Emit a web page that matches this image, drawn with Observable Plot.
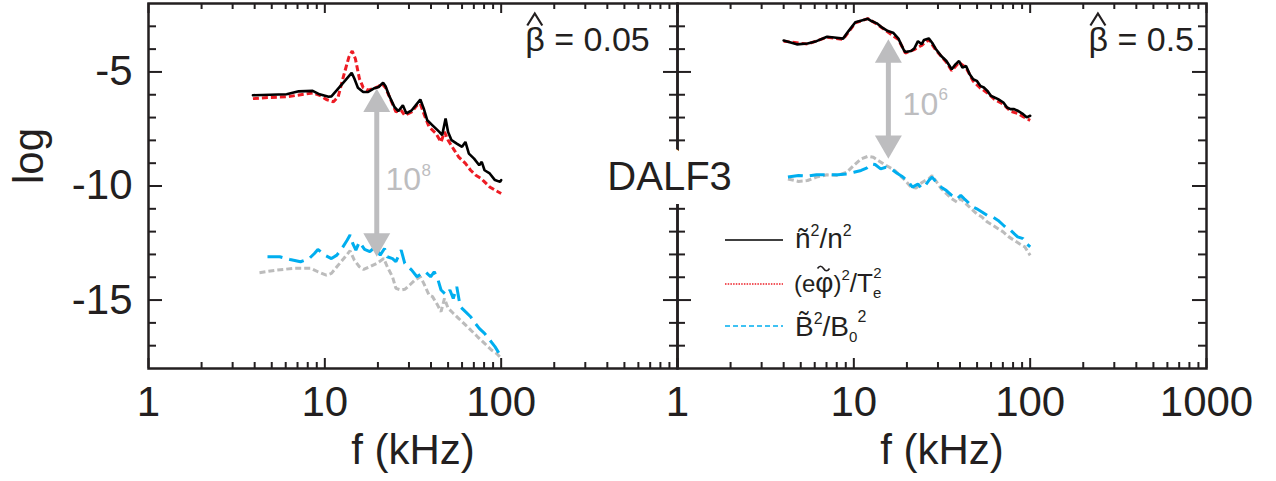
<!DOCTYPE html>
<html><head><meta charset="utf-8">
<script src="https://cdn.jsdelivr.net/npm/d3@7"></script>
<script src="https://cdn.jsdelivr.net/npm/@observablehq/plot@0.6"></script>
<style>
html,body{margin:0;padding:0;background:#fff;}
#wrap{position:relative;width:1276px;height:481px;font-family:"Liberation Sans",Arial,Helvetica,sans-serif;}
#legend{position:absolute;left:0;top:0;pointer-events:none;}
</style></head><body><div id="wrap"></div>
<script>
// ---------- data ----------
const panels = ["a", "b"];
const betaLabels = ["β = 0.05", "β = 0.5"];   // β carries a hat accent (drawn above it)
const betaLabelF = [137, 214];

const xTickValues = [1, 10, 100, 1000];
const xTickLabelsLeft = ["1", "10", "100"];
const xTickLabelsRight = ["1", "10", "100", "1000"];
const xMinor = [2,3,4,5,6,7,8,9,20,30,40,50,60,70,80,90,200,300,400,500,600,700,800,900];
const yMajor = [-5, -10, -15];
const yMinor = [-3,-4,-6,-7,-8,-9,-11,-12,-13,-14,-16,-17];

// left panel (beta = 0.05)
const fDensL = [3.91,6.07,7.11,8.53,9.34,10.5,10.9,11.7,13.1,14.2,14.7,15.4,16.5,17.6,18.9,20.2,21.4,22.1,23.1,24.8,26.1,27.7,29.0,31.1,32.5,34.8,36.4,38.1,40.8,44.6,46.3,48.4,50.0,52.3,56.0,60.0,62.7,65.6,70.2,75.1,77.6,80.5,86.1,92.2,98.6,100];
const vDensL = [-6.02,-5.98,-5.85,-5.83,-5.98,-6.09,-6.07,-5.80,-5.36,-5.04,-5.29,-5.69,-5.88,-5.88,-5.73,-5.66,-5.47,-5.63,-6.02,-6.53,-6.72,-6.46,-6.82,-6.68,-6.50,-6.21,-6.61,-7.12,-7.34,-7.63,-7.77,-7.04,-7.63,-7.99,-8.14,-8.28,-8.07,-8.58,-8.80,-9.09,-8.94,-9.31,-9.45,-9.74,-9.82,-9.74];
const fPhiL = [3.91,4.84,6.07,7.62,8.53,9.34,10.2,11.2,11.9,12.8,13.7,14.3,14.9,15.7,16.5,17.6,18.9,20.2,21.1,22.1,23.7,25.3,27.1,28.4,31.1,33.3,34.8,36.4,39.0,42.7,45.6,47.7,50.0,53.5,57.3,62.7,67.1,71.8,76.9,80.5,86.1,92.2,100];
const vPhiL = [-6.17,-6.12,-6.09,-5.98,-5.92,-6.02,-6.21,-6.31,-6.09,-5.15,-4.34,-4.08,-4.42,-5.29,-5.69,-5.80,-5.73,-5.63,-5.51,-5.69,-6.24,-6.75,-6.68,-6.90,-6.75,-6.46,-6.39,-6.82,-7.41,-7.70,-8.07,-7.63,-7.99,-8.36,-8.72,-9.01,-9.31,-9.53,-9.67,-9.82,-10.04,-10.18,-10.33];
const fMagL = [4.73,5.55,6.35,7.28,8.15,8.73,9.13,10.0,10.9,11.7,12.5,13.4,13.9,14.4,15.0,15.7,16.8,18.0,19.3,20.6,21.8,22.6,24.2,25.3,27.1,28.4,31.1,33.3,35.6,37.2,39.8,41.7,43.6,45.6,48.9,51.2,53.5,56.0,58.6,62.7,67.1,70.2,75.1,80.5,86.1,92.2,98.6];
const vMagL = [-13.10,-13.10,-13.22,-13.32,-13.18,-12.96,-12.78,-13.03,-13.18,-13.03,-12.74,-12.37,-12.15,-12.52,-12.81,-12.45,-12.78,-12.88,-12.66,-13.03,-12.74,-13.10,-13.18,-13.32,-12.81,-13.39,-13.69,-13.98,-13.83,-13.76,-13.98,-13.76,-14.05,-14.56,-14.78,-14.56,-14.93,-14.42,-15.29,-15.51,-15.73,-15.95,-16.24,-16.46,-16.75,-17.04,-17.41];
const fGrayL = [4.26,5.30,6.65,8.34,9.13,10.2,10.9,11.7,12.8,13.9,14.7,15.7,16.6,18.0,19.7,21.6,22.6,24.2,25.3,27.1,28.4,30.3,32.5,34.8,36.4,39.0,40.8,43.6,45.6,47.7,50.0,53.5,57.3,62.7,67.1,73.5,80.5,88.1,94.2,100];
const vGrayL = [-13.80,-13.69,-13.61,-13.61,-13.76,-13.91,-13.83,-13.54,-13.18,-12.84,-13.25,-13.54,-13.66,-13.54,-13.39,-13.18,-13.54,-13.98,-14.49,-14.56,-14.53,-14.34,-14.12,-13.98,-14.27,-14.78,-14.85,-15.22,-15.51,-14.93,-15.36,-15.58,-15.80,-16.09,-16.31,-16.61,-16.90,-17.19,-17.34,-17.55];

// right panel (beta = 0.5)
const fDensR = [4.00,4.75,5.46,6.14,7.05,7.74,8.69,9.33,10.2,11.2,12.0,12.6,13.5,14.5,15.6,16.7,17.9,19.2,19.6,21.1,22.0,23.1,24.2,25.0,26.6,27.8,29.1,31.3,33.5,35.9,37.7,39.5,41.3,43.3,45.4,47.5,49.8,52.1,54.6,57.2,60.0,62.8,65.8,70.5,73.9,77.4,81.1,84.9,91.2,95.5,100];
const vDensR = [-3.62,-3.79,-3.75,-3.65,-3.46,-3.49,-3.54,-3.21,-2.82,-2.73,-2.67,-2.77,-2.87,-3.06,-3.21,-3.28,-3.54,-4.04,-4.13,-4.08,-3.98,-3.65,-3.79,-3.60,-3.53,-3.72,-3.98,-4.30,-4.52,-4.88,-4.67,-4.52,-4.81,-4.74,-5.10,-5.32,-5.39,-5.61,-5.68,-5.83,-6.05,-6.12,-6.19,-6.34,-6.56,-6.63,-6.63,-6.70,-6.85,-6.99,-6.92];
const fPhiR = [4.00,5.46,7.05,8.69,10.2,12.0,13.5,15.6,17.9,19.6,22.0,24.2,26.6,29.1,33.5,35.9,39.5,43.3,47.5,52.1,57.2,62.8,70.5,77.4,84.9,91.2,100];
const vPhiR = [-3.65,-3.78,-3.48,-3.57,-2.85,-2.66,-2.90,-3.25,-3.58,-4.17,-4.02,-3.84,-3.58,-4.03,-4.58,-4.94,-4.58,-4.82,-5.40,-5.70,-5.92,-6.20,-6.42,-6.72,-6.82,-6.96,-7.12];
const fMagR = [4.23,4.86,5.46,6.14,7.05,8.11,9.11,10.0,11.0,11.8,12.6,13.2,14.2,15.2,16.3,17.5,18.7,20.1,21.5,23.1,24.2,25.4,26.6,27.8,29.1,31.3,33.5,35.9,38.5,40.4,42.3,45.4,47.5,49.8,53.3,57.2,61.4,65.8,70.5,73.9,77.4,81.1,84.9,91.2,95.5,100];
const vMagR = [-9.61,-9.54,-9.57,-9.51,-9.50,-9.51,-9.47,-9.40,-9.32,-9.22,-9.03,-9.06,-9.25,-9.18,-9.25,-9.43,-9.57,-9.76,-10.05,-9.91,-10.09,-9.98,-9.76,-9.61,-9.80,-10.05,-10.20,-10.41,-10.56,-10.41,-10.56,-10.78,-10.92,-11.00,-11.14,-11.29,-11.36,-11.51,-11.72,-11.87,-11.94,-12.09,-12.23,-12.31,-12.53,-12.67];
const fGrayR = [4.23,4.86,5.46,6.14,7.05,8.11,9.11,10.0,11.0,12.0,12.9,13.8,14.9,15.9,17.1,18.3,19.6,21.1,22.6,23.7,25.4,26.6,27.8,29.1,31.3,33.5,35.9,38.5,40.4,43.3,46.4,49.8,53.3,57.2,61.4,65.8,70.5,75.7,81.1,86.9,93.3,100];
const vGrayR = [-9.69,-9.80,-9.76,-9.61,-9.51,-9.54,-9.40,-9.10,-8.81,-8.70,-8.74,-8.89,-9.06,-9.18,-9.32,-9.54,-9.76,-10.05,-10.09,-9.91,-9.76,-9.69,-9.54,-9.76,-10.12,-10.34,-10.56,-10.71,-10.56,-10.78,-11.00,-11.22,-11.36,-11.58,-11.72,-11.87,-12.02,-12.23,-12.38,-12.53,-12.67,-13.04];

// arrows and ratio annotations
const arrowF = [19.7, 15.7];
const arrowTop = [-5.73, -3.57];
const arrowBottom = [-13.10, -8.81];
const ratioBase = ["10", "10"];
const ratioExp = ["8", "6"];
const ratioF = [22.1, 18.9];
const ratioV = [-9.74, -6.45];

// ---------- build tables ----------
const rows = (panel, f, v) => f.map((x, i) => ({panel, f: x, v: v[i]}));
const dens = [...rows("a", fDensL, vDensL), ...rows("b", fDensR, vDensR)];
const phi = [...rows("a", fPhiL, vPhiL), ...rows("b", fPhiR, vPhiR)];
const mag = [...rows("a", fMagL, vMagL), ...rows("b", fMagR, vMagR)];
const gray = [...rows("a", fGrayL, vGrayL), ...rows("b", fGrayR, vGrayR)];
const arrows = panels.map((p, i) => ({panel: p, f: arrowF[i], top: arrowTop[i], bottom: arrowBottom[i]}));
const ratios = panels.map((p, i) => ({panel: p, f: ratioF[i], v: ratioV[i], base: ratioBase[i], exp: ratioExp[i]}));
const betas = panels.map((p, i) => ({panel: p, f: betaLabelF[i], label: betaLabels[i]}));
const xTickRows = [
  ...xTickLabelsLeft.map(l => ({panel: "a", f: +l, label: l})),
  ...xTickLabelsRight.map(l => ({panel: "b", f: +l, label: l}))
];

const W = 1276, H = 481, ML = 148, MR = 70, MT = 3, MB = 113;
const FW = (W - ML - MR) / 2, FH = H - MT - MB;
const INK = "#231f20", ARROW = "#bdbdbf";
const C_RED = "#ed1c24", C_BLUE = "#00aeef", C_GRAY = "#bcbcbc";

// circumflex accent for β̂
const hatSymbol = {draw(ctx) { ctx.moveTo(-7.5, 6); ctx.lineTo(0, -6); ctx.lineTo(7.5, 6); }};

const chart = Plot.plot({
  width: W, height: H,
  marginLeft: ML, marginRight: MR, marginTop: MT, marginBottom: MB,
  style: {fontFamily: '"Liberation Sans", Arial, Helvetica, sans-serif', background: "white", color: INK},
  x: {type: "log", domain: [1, 1000], axis: null},
  y: {domain: [-18, -2], axis: null},
  fx: {domain: panels, padding: 0, axis: null},
  marks: [
    // ticks (inward)
    Plot.tickX(xTickValues, {x: d => d, insetTop: FH - 10, strokeWidth: 2, stroke: INK}),
    Plot.tickX(xMinor, {x: d => d, insetTop: FH - 6, strokeWidth: 2, stroke: INK}),
    Plot.tickX(xTickValues, {x: d => d, insetBottom: FH - 10, strokeWidth: 2, stroke: INK}),
    Plot.tickX(xMinor, {x: d => d, insetBottom: FH - 6, strokeWidth: 2, stroke: INK}),
    Plot.tickY(yMajor, {y: d => d, insetRight: FW - 14, strokeWidth: 2, stroke: INK}),
    Plot.tickY(yMinor, {y: d => d, insetRight: FW - 8, strokeWidth: 2, stroke: INK}),
    Plot.tickY(yMajor, {y: d => d, insetLeft: FW - 14, strokeWidth: 2, stroke: INK}),
    Plot.tickY(yMinor, {y: d => d, insetLeft: FW - 8, strokeWidth: 2, stroke: INK}),
    Plot.frame({stroke: INK, strokeWidth: 2.5}),
    // series
    Plot.line(gray, {x: "f", y: "v", fx: "panel", stroke: C_GRAY, strokeWidth: 3, strokeDasharray: "6 3", strokeLinecap: "butt", strokeLinejoin: "miter"}),
    Plot.line(mag, {x: "f", y: "v", fx: "panel", stroke: C_BLUE, strokeWidth: 3, strokeDasharray: "15 7", strokeLinecap: "butt", strokeLinejoin: "miter"}),
    Plot.line(phi, {x: "f", y: "v", fx: "panel", stroke: C_RED, strokeWidth: 3, strokeDasharray: "6 3", strokeLinecap: "butt", strokeLinejoin: "miter"}),
    Plot.line(dens, {x: "f", y: "v", fx: "panel", stroke: "#000", strokeWidth: 2.6, strokeLinejoin: "miter"}),
    // arrows
    Plot.ruleX(arrows, {x: "f", y1: "top", y2: "bottom", fx: "panel", stroke: ARROW, strokeWidth: 5, insetTop: 10, insetBottom: 10}),
    Plot.dot(arrows, {x: "f", y: "top", fx: "panel", symbol: "triangle", r: 10, fill: ARROW, dy: 15.6}),
    Plot.dot(arrows, {x: "f", y: "bottom", fx: "panel", symbol: "triangle", r: 10, fill: ARROW, rotate: 180, dy: -15.6}),
    Plot.text(ratios, {x: "f", y: "v", fx: "panel", text: "base", textAnchor: "start", fontSize: 32, fill: ARROW}),
    Plot.text(ratios, {x: "f", y: "v", fx: "panel", text: "exp", textAnchor: "start", dx: 36, dy: -10, fontSize: 17, fill: ARROW}),
    // beta labels with hat accent
    Plot.text(betas, {x: "f", fx: "panel", text: "label", frameAnchor: "top", lineAnchor: "middle", dy: 37, textAnchor: "start", fontSize: 34, fill: INK}),
    Plot.dot(betas, {x: "f", fx: "panel", frameAnchor: "top", dy: 16, dx: 9.5, symbol: hatSymbol, r: 5, fill: "none", stroke: INK, strokeWidth: 2.2, strokeLinejoin: "miter"}),
    // axis tick labels
    Plot.text(xTickRows, {x: "f", fx: "panel", text: "label", frameAnchor: "bottom", lineAnchor: "middle", dy: 34, fontSize: 42, fill: INK}),
    Plot.text(yMajor, {y: d => d, fx: () => "a", text: d => String(d), frameAnchor: "left", dx: -16, textAnchor: "end", fontSize: 42, fill: INK}),
    Plot.text(["f (kHz)"], {text: d => d, frameAnchor: "bottom", lineAnchor: "middle", dy: 82, fontSize: 42, fill: INK}),
    Plot.text(["log"], {text: d => d, fx: () => "a", frameAnchor: "left", dx: -119, dy: -2, rotate: -90, fontSize: 42, fill: INK}),
    // centre label (white halo breaks the shared divider)
    Plot.text(["DALF3"], {text: d => d, fx: () => "a", x: () => 902, y: () => -9.61, fontSize: 40, fill: INK, stroke: "white", strokeWidth: 28})
  ]
});

const wrap = document.getElementById("wrap");
wrap.appendChild(chart);

// ---------- legend (inside right panel) ----------
const legend = `
<svg id="legend" width="${W}" height="${H}" xmlns="http://www.w3.org/2000/svg" font-family='"Liberation Sans", Arial, sans-serif' fill="${INK}">
  <line x1="725" x2="783" y1="240" y2="240" stroke="#000" stroke-width="1.5"/>
  <line x1="725" x2="783" y1="284" y2="284" stroke="${C_RED}" stroke-width="1.5" stroke-dasharray="1.5,1.2"/>
  <line x1="725" x2="783" y1="326" y2="326" stroke="${C_BLUE}" stroke-width="1.5" stroke-dasharray="5,3"/>
  <text x="795" y="248" font-size="28">ñ<tspan font-size="16" dy="-12">2</tspan><tspan dy="12">/n</tspan><tspan font-size="16" dy="-12">2</tspan></text>
  <text x="794" y="292" font-size="24">(e<tspan font-size="28">φ</tspan>)<tspan font-size="15" dy="-12">2</tspan><tspan font-size="26" dy="12">/T</tspan><tspan font-size="15" dy="6">e</tspan><tspan font-size="15" dx="-8" dy="-20">2</tspan></text>
  <path d="M817.5,268.5 q3,-4.5 6,0 t6,0" fill="none" stroke="${INK}" stroke-width="1.6"/>
  <text x="795" y="336" font-size="28">B\u0303<tspan font-size="16" dy="-12">2</tspan><tspan dy="12">/B</tspan><tspan font-size="15" dy="6">0</tspan><tspan font-size="16" dy="-20">2</tspan></text>
</svg>`;
wrap.insertAdjacentHTML("beforeend", legend);
</script></body></html>
